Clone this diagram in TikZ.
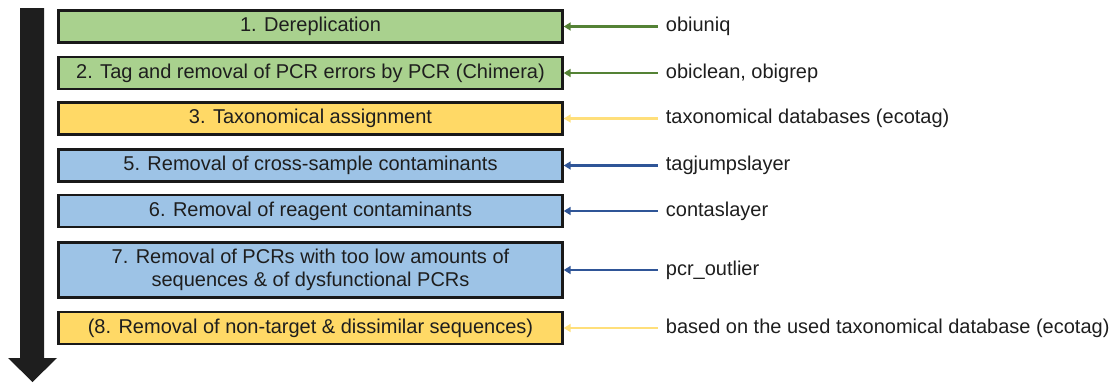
\documentclass[tikz,border=0pt]{standalone}
\usepackage{fontspec}
\setmainfont{Liberation Sans}
\usetikzlibrary{arrows.meta,positioning}
\definecolor{grnfill}{HTML}{A9D18E}
\definecolor{grnline}{HTML}{548235}
\definecolor{yelfill}{HTML}{FFD966}
\definecolor{yelline}{HTML}{FFDF7A}
\definecolor{blufill}{HTML}{9DC3E6}
\definecolor{bluline}{HTML}{2F5597}
\definecolor{inkc}{HTML}{1E1E1E}
\tikzset{
  ar/.style={-{Triangle[length=7pt,width=8pt]},line width=2.4pt},
  stepbox/.style={draw=black!90,line width=2.4pt,minimum width=504pt,minimum height=32pt,align=center,inner sep=2pt,text=inkc,font=\fontsize{20}{23}\selectfont},
  tool/.style={inner xsep=8pt,inner ysep=0pt,text=inkc,font=\fontsize{20}{23}\selectfont}
}
\begin{document}
\begin{tikzpicture}[x=1pt,y=-1pt]
\useasboundingbox (0,0) rectangle (1114,383);
% big downward arrow
\fill[inkc] (20,8)--(44,8)--(44,358)--(57,358)--(32.5,382)--(8,358)--(20,358)--cycle;
% steps
\node[stepbox,fill=grnfill] (b1) at (310.5,26.5) {1. Dereplication};
\node[stepbox,fill=grnfill] (b2) at (310.5,73) {2. Tag and removal of PCR errors by PCR (Chimera)};
\node[stepbox,fill=yelfill] (b3) at (310.5,118.5) {3. Taxonomical assignment};
\node[stepbox,fill=blufill] (b5) at (310.5,165.5) {5. Removal of cross-sample contaminants};
\node[stepbox,fill=blufill] (b6) at (310.5,211) {6. Removal of reagent contaminants};
\node[stepbox,fill=blufill,minimum height=55pt] (b7) at (310.5,270) {7. Removal of PCRs with too low amounts of\\sequences \& of dysfunctional PCRs};
\node[stepbox,fill=yelfill] (b8) at (310.5,328) {(8. Removal of non-target \& dissimilar sequences)};
% tools
\node[tool,right=94pt of b1] (t1) {obiuniq};
\node[tool,right=94pt of b2] (t2) {obiclean, obigrep};
\node[tool,right=94pt of b3] (t3) {taxonomical databases (ecotag)};
\node[tool,right=94pt of b5] (t5) {tagjumpslayer};
\node[tool,right=94pt of b6] (t6) {contaslayer};
\node[tool,right=94pt of b7] (t7) {pcr\_outlier};
\node[tool,right=94pt of b8] (t8) {based on the used taxonomical database (ecotag)};
\draw[ar,grnline] (t1.west) -- (b1.east);
\draw[ar,grnline] (t2.west) -- (b2.east);
\draw[ar,yelline] (t3.west) -- (b3.east);
\draw[ar,bluline] (t5.west) -- (b5.east);
\draw[ar,bluline] (t6.west) -- (b6.east);
\draw[ar,bluline] (t7.west) -- (b7.east);
\draw[ar,yelline] (t8.west) -- (b8.east);
\end{tikzpicture}
\end{document}
